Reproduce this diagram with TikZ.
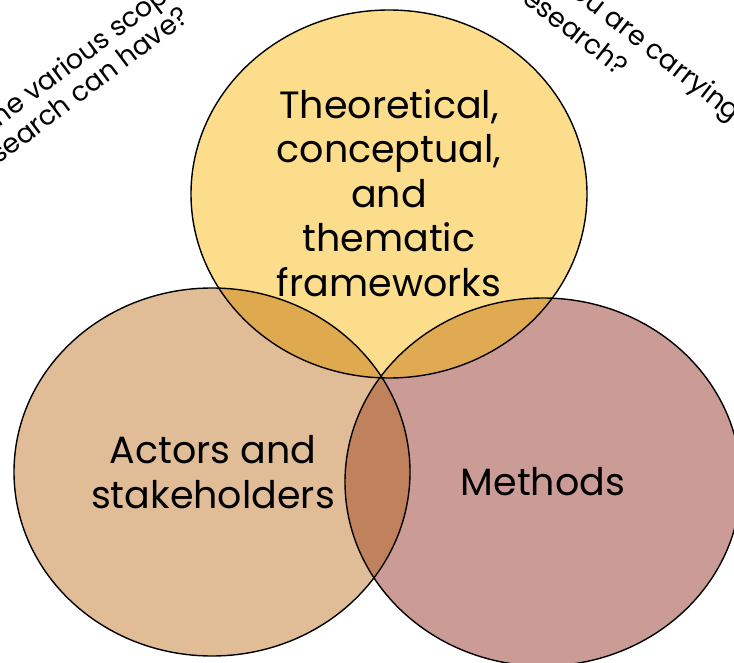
\documentclass[tikz,border=0pt]{standalone}
\usepackage{fontspec}
\setmainfont{Poppins}
\definecolor{topc}{RGB}{252,221,140}
\definecolor{leftc}{RGB}{224,188,151}
\definecolor{rightc}{RGB}{203,155,150}
\definecolor{tlc}{RGB}{223,169,80}
\definecolor{trc}{RGB}{223,170,82}
\definecolor{lrc}{RGB}{192,130,92}
\definecolor{tlrc}{RGB}{185,120,70}
\tikzset{
  outline/.style={draw=black, line width=1.4pt},
  biglabel/.style={font=\fontsize{38}{44.5}\selectfont, align=center, text=black, inner sep=0pt},
  question/.style={font=\fontsize{27}{30}\selectfont, text=black, inner sep=0pt},
}
\begin{document}
\begin{tikzpicture}[x=1pt,y=-1pt]
\useasboundingbox (0,0) rectangle (734,663);
\clip (0,0) rectangle (734,663);
\def\topE{(389,194) ellipse [x radius=198, y radius=184]}
\def\leftE{(212,472) ellipse [x radius=198, y radius=184]}
\def\rightE{(543,482) ellipse [x radius=198, y radius=184]}
% base fills
\fill[topc] \topE;
\fill[leftc] \leftE;
\fill[rightc] \rightE;
% overlaps
\begin{scope}\clip \leftE; \fill[tlc] \topE; \end{scope}
\begin{scope}\clip \rightE; \fill[trc] \topE; \end{scope}
\begin{scope}\clip \leftE; \fill[lrc] \rightE; \end{scope}
\begin{scope}\clip \leftE; \clip \rightE; \fill[tlrc] \topE; \end{scope}
% outlines
\draw[outline] \topE;
\draw[outline] \leftE;
\draw[outline] \rightE;
% labels
\node[biglabel] (theo) at (389,193) {Theoretical,\\conceptual,\\and\\thematic\\frameworks};
\node[biglabel] (actors) at (213,472) {Actors and\\stakeholders};
\node[biglabel] (methods) at (543,482) {Methods};
% rotated questions (cut by the picture edge)
\node[question, rotate=37, anchor=base west] (q1a) at (13.2,117.1) {\llap{What are th}e various scopes that};
\node[question, rotate=37, anchor=base east] (q1b) at (190.9,19.6) {your research can have?};
\node[question, rotate=-38, anchor=base west] (q2a) at (583.3,5.5) {\llap{How are yo}u are carrying out your};
\node[question, rotate=-38, anchor=base east] (q2b) at (619.3,77.4) {in your research?};
\end{tikzpicture}
\end{document}
